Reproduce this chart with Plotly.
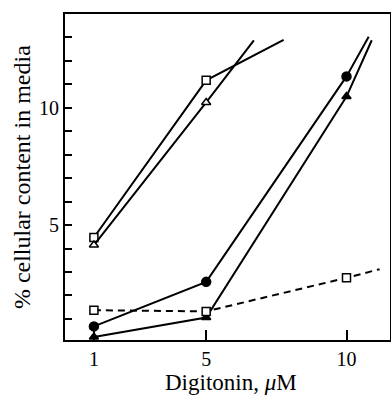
import plotly.graph_objects as go

# Digitonin concentration (uM); last point of each series is the end of the drawn line (no marker)
sq_x = [1, 5, 7.76]
sq_y = [4.47, 11.17, 12.9]

otri_x = [1, 5, 6.70]
otri_y = [4.15, 10.23, 12.88]

fcirc_x = [1, 5, 10, 10.79]
fcirc_y = [0.68, 2.58, 11.34, 13.03]

ftri_x = [1, 5, 10, 10.9]
ftri_y = [0.23, 1.06, 10.48, 12.88]

dsq_x = [1, 5, 10, 11.18]
dsq_y = [1.37, 1.32, 2.75, 3.12]

x_ticks = [1, 5, 10]
y_ticks = list(range(1, 14))
y_ticklabels = ["" if v not in (5, 10) else str(v) for v in y_ticks]

fig = go.Figure()

def add(xs, ys, symbol, size, fill, dash="solid"):
    sizes = [size] * (len(xs) - 1) + [0]
    fig.add_trace(go.Scatter(
        x=xs, y=ys, mode="lines+markers",
        line=dict(color="black", width=2, dash=dash),
        marker=dict(symbol=symbol, size=sizes, color=fill, opacity=1,
                    line=dict(color="black", width=1.5)),
        showlegend=False, cliponaxis=False))

add(sq_x, sq_y, "square", 8, "white")
add(otri_x, otri_y, "triangle-up", 8, "white")
add(fcirc_x, fcirc_y, "circle", 9, "black")
add(ftri_x, ftri_y, "triangle-up", 8, "black")
add(dsq_x, dsq_y, "square", 8, "white", dash="7px,5px")

serif = "Liberation Serif, Times New Roman, serif"
font = dict(family=serif, color="black", size=20)

fig.update_layout(
    width=391, height=396,
    margin=dict(l=65, r=1, t=14, b=56),
    paper_bgcolor="white", plot_bgcolor="white",
    font=font,
    xaxis=dict(range=[-0.03, 11.55], tickvals=x_ticks, ticks="inside", ticklen=10, tickwidth=1.5,
               tickcolor="black", showline=True, linecolor="black", linewidth=2, mirror=True,
               showgrid=False, zeroline=False, tickfont=dict(size=20), automargin=False),
    yaxis=dict(range=[0.1, 14.0], tickvals=y_ticks, ticktext=y_ticklabels, ticks="inside",
               ticklen=7, tickwidth=1.5, tickcolor="black", showline=True, linecolor="black",
               linewidth=2, mirror=True, showgrid=False, zeroline=False, tickfont=dict(size=20),
               automargin=False),
    annotations=[
        dict(text="Digitonin, <i>μ</i>M", xref="paper", yref="paper", x=0.511, y=-0.1705,
             xanchor="center", yanchor="bottom", showarrow=False, borderpad=0,
             font=dict(size=23)),
        dict(text="% cellular content in media", xref="paper", yref="paper", x=-0.132, y=0.5,
             xanchor="center", yanchor="middle", textangle=-90, showarrow=False,
             font=dict(size=24)),
    ],
)

fig.write_html("out.html", config={"displayModeBar": False},
               post_script="document.body.style.margin='0';document.body.style.overflow='hidden';")
